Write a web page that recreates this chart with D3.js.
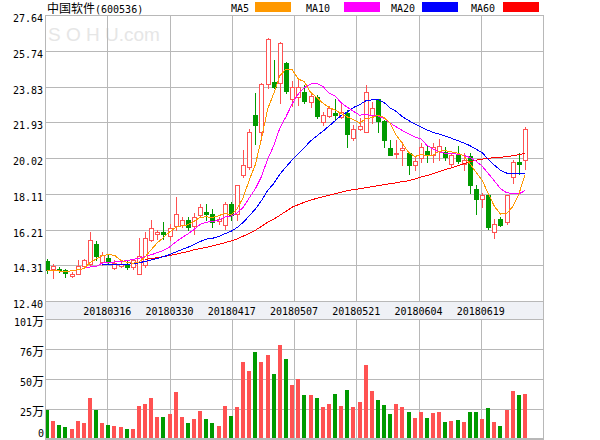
<!DOCTYPE html>
<html><head><meta charset="utf-8">
<script src="https://cdn.jsdelivr.net/npm/d3@7/dist/d3.min.js"></script>
<style>body{margin:0;background:#fff}svg{display:block}</style>
</head><body><svg id="c" width="600" height="440"></svg>
<script>
const stockName = "中国软件";
const stockCode = "(600536)";
const dateLabels = ["20180316","20180330","20180417","20180507","20180521","20180604","20180619"];
const priceTicks = [12.40,14.31,16.21,18.11,20.02,21.93,23.83,25.74,27.64];
const volTicks = [0,25.25,50.5,75.75,101];
const volTickLabels = ["0","25万","50万","76万","101万"];
const maNames = ["MA5","MA10","MA20","MA60"];

const opens = [14.51,14.12,14.12,14.03,13.73,13.86,14.25,14.39,15.46,14.48,
 14.71,14.18,14.28,14.39,14.21,13.86,14.30,15.67,15.98,16.08,
 15.86,16.38,16.47,16.70,16.38,16.97,17.14,17.02,16.65,16.43,
 17.59,17.06,19.10,19.55,22.30,21.41,23.96,24.08,24.03,25.06,
 23.14,23.28,23.55,23.01,23.28,21.95,22.25,22.43,22.18,22.43,
 21.11,21.57,21.41,22.30,23.14,22.00,20.53,20.24,20.44,20.26,
 19.64,20.00,20.40,20.17,20.40,20.35,19.70,20.17,19.68,20.12,
 18.39,17.81,18.03,16.08,16.79,16.61,19.01,19.81,19.90];
const highs = [14.66,14.36,14.21,14.12,13.94,14.57,14.66,16.08,15.60,15.01,
 14.89,14.57,14.48,14.57,14.66,15.78,16.08,16.74,16.17,16.61,
 16.52,17.94,16.88,16.88,17.09,17.55,17.59,17.32,16.88,17.68,
 17.68,18.57,20.44,21.59,23.46,24.00,26.40,25.24,26.22,25.15,
 24.13,24.17,23.90,23.46,23.37,22.48,22.79,23.19,22.93,22.57,
 21.77,22.13,23.90,23.00,23.14,22.07,20.97,21.00,20.88,20.35,
 20.08,20.80,20.65,20.80,21.01,20.58,20.30,20.65,20.26,20.26,
 18.57,18.16,18.13,16.79,16.88,18.03,19.90,20.26,21.68];
const lows = [13.89,13.62,13.97,13.68,13.68,13.82,14.17,14.30,14.57,14.30,
 14.39,14.12,14.21,14.12,14.12,13.82,14.21,15.60,15.72,15.72,
 15.63,16.17,16.34,16.17,15.99,16.88,16.70,16.34,16.52,16.26,
 16.70,16.70,19.01,19.46,20.79,20.97,23.73,23.73,22.93,23.49,
 22.78,22.84,22.93,22.75,22.13,21.77,22.18,22.07,22.13,20.58,
 20.99,21.50,21.41,21.90,21.41,20.58,20.17,20.00,19.64,19.19,
 19.37,19.81,19.81,19.81,19.94,19.90,19.55,19.76,19.37,18.16,
 17.06,17.41,16.26,15.78,16.38,16.52,18.69,19.19,19.46];
const closes = [14.03,14.25,14.05,13.89,13.86,14.25,14.57,15.67,14.78,14.83,
 14.48,14.42,14.39,14.21,14.57,14.78,15.78,16.31,16.07,15.95,
 16.31,17.02,16.70,16.34,16.88,17.41,17.05,16.61,16.75,17.59,
 16.97,18.57,19.64,21.41,21.77,23.96,26.34,23.81,26.13,23.58,
 23.81,23.81,23.07,23.32,22.25,22.30,22.66,22.32,22.48,21.29,
 21.59,21.72,23.52,22.70,22.00,20.97,20.17,20.30,20.53,19.64,
 19.87,20.62,20.17,20.58,20.65,20.08,20.20,19.87,19.90,18.57,
 17.81,18.03,16.34,16.52,16.43,18.03,19.81,19.69,21.59];
const volumes = [24.5,14.9,12.0,9.8,8.7,14.9,13.2,34.2,24.1,13.7,
 12.0,10.7,9.8,8.7,8.7,28.0,29.7,34.8,18.8,18.2,
 21.3,39.8,18.8,13.7,17.1,23.8,17.1,13.7,11.2,28.0,
 19.6,27.2,65.1,57.0,73.5,65.1,71.0,55.0,79.4,67.6,
 45.7,50.8,37.3,37.3,34.8,27.2,29.7,38.2,28.0,41.5,
 27.2,31.4,62.6,40.7,33.1,28.9,21.3,29.7,27.2,23.0,
 18.0,23.0,18.0,22.2,23.0,14.6,15.4,16.3,14.6,23.0,
 23.0,17.1,26.4,14.6,11.2,24.7,40.7,37.3,38.2];

const ma5 = [14.03,14.01,14.00,13.95,14.02,14.06,14.12,14.45,14.63,14.82,
 14.87,14.84,14.58,14.47,14.41,14.47,14.75,15.13,15.50,15.78,
 16.08,16.33,16.41,16.46,16.65,16.87,16.88,16.86,16.94,17.08,
 16.99,17.30,17.90,18.84,19.67,21.07,22.62,23.46,24.40,24.76,
 24.73,24.23,24.08,23.52,23.25,22.95,22.72,22.57,22.40,22.21,
 22.07,21.88,22.12,22.16,22.31,22.18,21.87,21.23,20.79,20.32,
 20.10,20.19,20.17,20.18,20.38,20.42,20.34,20.28,20.14,19.72,
 19.27,18.84,18.13,17.45,17.03,17.07,17.43,18.10,19.11];
const ma10 = [null,null,null,null,null,null,14.19,14.21,14.24,14.42,
 14.46,14.48,14.51,14.55,14.62,14.67,14.79,14.86,14.98,15.10,
 15.28,15.54,15.77,15.98,16.21,16.48,16.60,16.63,16.70,16.87,
 16.93,17.09,17.38,17.89,18.38,19.03,19.96,20.68,21.62,22.22,
 22.90,23.43,23.77,23.96,24.01,23.84,23.48,23.33,22.96,22.73,
 22.51,22.30,22.35,22.28,22.26,22.13,21.88,21.68,21.48,21.32,
 21.14,21.03,20.70,20.49,20.35,20.26,20.27,20.22,20.16,20.05,
 19.85,19.59,19.20,18.80,18.38,18.17,18.13,18.11,18.28];
const ma20 = [null,null,null,null,null,null,null,null,null,14.34,
 14.34,14.35,14.35,14.36,14.38,14.43,14.51,14.59,14.67,14.76,
 14.87,15.01,15.14,15.26,15.42,15.57,15.70,15.74,15.84,15.98,
 16.11,16.31,16.58,16.94,17.30,17.75,18.28,18.66,19.16,19.54,
 19.92,20.26,20.58,20.92,21.19,21.44,21.72,22.00,22.29,22.47,
 22.71,22.86,23.06,23.12,23.13,22.98,22.68,22.50,22.22,22.02,
 21.83,21.67,21.52,21.38,21.30,21.19,21.07,20.95,20.82,20.68,
 20.49,20.31,19.95,19.64,19.36,19.22,19.20,19.17,19.22];
const ma60 = [null,null,null,null,null,null,null,null,null,null,
 null,null,null,null,null,null,14.62,14.66,14.71,14.76,
 14.82,14.89,14.97,15.03,15.13,15.20,15.26,15.34,15.42,15.50,
 15.60,15.71,15.85,16.01,16.17,16.38,16.60,16.76,16.97,17.18,
 17.40,17.53,17.66,17.77,17.87,17.95,18.03,18.11,18.19,18.28,
 18.34,18.38,18.44,18.49,18.54,18.60,18.65,18.70,18.76,18.81,
 18.89,19.00,19.08,19.18,19.29,19.40,19.50,19.61,19.72,19.82,
 19.90,19.96,20.00,20.04,20.06,20.09,20.14,20.20,20.26];
const maColors = ["#ff9900","#ff00ff","#0000ff","#ff0000"];

const RED = "#ff5252", GREEN = "#009a00", GRID = "#b8b8b8";
const L = 45, R = 543, T = 15, B = 301, VT = 319, VB = 439;
const n = closes.length;
const x = d3.scaleLinear().domain([0, n - 1]).range([47, 525]);
const gx = d3.scaleLinear().domain([0, 8]).range([L, R]);
const y = d3.scaleLinear().domain([priceTicks[0], priceTicks[priceTicks.length-1]]).range([B, T]);
const yv = d3.scaleLinear().domain([0, 101]).range([VB, VT]);
const px = v => Math.round(v) + 0.5;

const svg = d3.select("#c");
const mono = "'DejaVu Sans Mono', 'Liberation Mono', monospace";
const cjk = "'Noto Sans CJK SC', 'Noto Sans', sans-serif";

// watermark
svg.append("text").attr("x", 48).attr("y", 41)
  .attr("font-family", "'Liberation Sans', Arial, sans-serif").attr("font-size", 19)
  .attr("fill", "#e6e6e6").text("S O H U.com");

// header
const head = svg.append("text").attr("x", 47).attr("y", 13).attr("fill", "#000");
head.append("tspan").attr("font-family", cjk).attr("font-size", 12).text(stockName);
head.append("tspan").attr("font-family", mono).attr("font-size", 10).text(stockCode);

// legend
const legX = [231, 306, 391, 471];
const legR = [255, 344, 422, 503];
maNames.forEach((nm, k) => {
  svg.append("text").attr("x", legX[k]).attr("y", 12).attr("font-family", mono)
    .attr("font-size", 10).attr("fill", "#000").text(nm);
  svg.append("rect").attr("x", legR[k]).attr("y", 2).attr("width", 36).attr("height", 10)
    .attr("fill", maColors[k]);
});

const g = svg.append("g").attr("shape-rendering", "crispEdges");

// main grid
priceTicks.forEach(v => {
  g.append("line").attr("x1", L).attr("x2", R).attr("y1", px(y(v))).attr("y2", px(y(v)))
    .attr("stroke", GRID);
});
d3.range(9).forEach(k => {
  g.append("line").attr("x1", px(gx(k))).attr("x2", px(gx(k))).attr("y1", T).attr("y2", B)
    .attr("stroke", GRID);
  g.append("line").attr("x1", px(gx(k))).attr("x2", px(gx(k))).attr("y1", VT).attr("y2", VB)
    .attr("stroke", GRID);
});
// date band
g.append("rect").attr("x", L + 0.5).attr("y", B + 0.5).attr("width", R - L).attr("height", VT - B)
  .attr("fill", "#eff1f6").attr("stroke", GRID);
// volume grid
volTicks.forEach(v => {
  g.append("line").attr("x1", L).attr("x2", R).attr("y1", px(yv(v))).attr("y2", px(yv(v)))
    .attr("stroke", GRID);
});
g.append("line").attr("x1", L).attr("x2", R + 1).attr("y1", VB).attr("y2", VB)
  .attr("stroke", GRID).attr("stroke-width", 2);

// y labels
priceTicks.forEach(v => {
  svg.append("text").attr("x", 43).attr("y", Math.round(y(v)) + 6.5).attr("text-anchor", "end")
    .attr("font-family", mono).attr("font-size", 10).attr("fill", "#000").text(v.toFixed(2));
});
volTicks.forEach((v, k) => {
  const t = svg.append("text").attr("x", 44).attr("text-anchor", "end").attr("fill", "#000")
    .attr("y", k === 0 ? 437 : Math.round(yv(v)) + 7);
  const lab = volTickLabels[k];
  const num = lab.replace("万", "");
  t.append("tspan").attr("font-family", mono).attr("font-size", 10).text(num);
  if (lab.includes("万")) t.append("tspan").attr("font-family", cjk).attr("font-size", 12).text("万");
});
// date labels
dateLabels.forEach((d, k) => {
  svg.append("text").attr("x", gx(k + 1)).attr("y", 315).attr("text-anchor", "middle")
    .attr("font-family", mono).attr("font-size", 10).attr("fill", "#000").text(d);
});

// volume bars
const idx = d3.range(n);
g.selectAll(".vol").data(idx).join("rect")
  .attr("x", i => Math.round(x(i)) - 2).attr("width", 4)
  .attr("y", i => Math.round(yv(volumes[i]))).attr("height", i => VB - 1 - Math.round(yv(volumes[i])))
  .attr("fill", i => closes[i] >= opens[i] ? RED : GREEN);

// candles
const cg = g.append("g");
idx.forEach(i => {
  const up = closes[i] >= opens[i];
  const col = up ? RED : GREEN;
  const cx = Math.round(x(i));
  cg.append("line").attr("x1", cx + 0.5).attr("x2", cx + 0.5)
    .attr("y1", Math.round(y(highs[i]))).attr("y2", Math.round(y(lows[i])) + 1).attr("stroke", col);
  const top = Math.round(y(Math.max(opens[i], closes[i])));
  const bot = Math.round(y(Math.min(opens[i], closes[i])));
  if (up) {
    cg.append("rect").attr("x", cx - 2 + 0.5).attr("y", top + 0.5).attr("width", 4)
      .attr("height", Math.max(bot - top, 1)).attr("fill", "#fff").attr("stroke", col);
  } else {
    cg.append("rect").attr("x", cx - 2).attr("y", top).attr("width", 5)
      .attr("height", Math.max(bot - top, 1) + 1).attr("fill", col);
  }
});

// moving averages
[ma60, ma20, ma10, ma5].forEach((arr, k) => {
  const colr = maColors[3 - k];
  const line = d3.line().defined(i => arr[i] != null).x(i => x(i)).y(i => y(arr[i]));
  g.append("path").attr("d", line(idx)).attr("fill", "none").attr("stroke", colr).attr("stroke-width", 1);
});

// frame
g.append("rect").attr("x", L + 0.5).attr("y", T + 0.5).attr("width", R - L).attr("height", VB - T - 1)
  .attr("fill", "none").attr("stroke", GRID);
</script></body></html>
